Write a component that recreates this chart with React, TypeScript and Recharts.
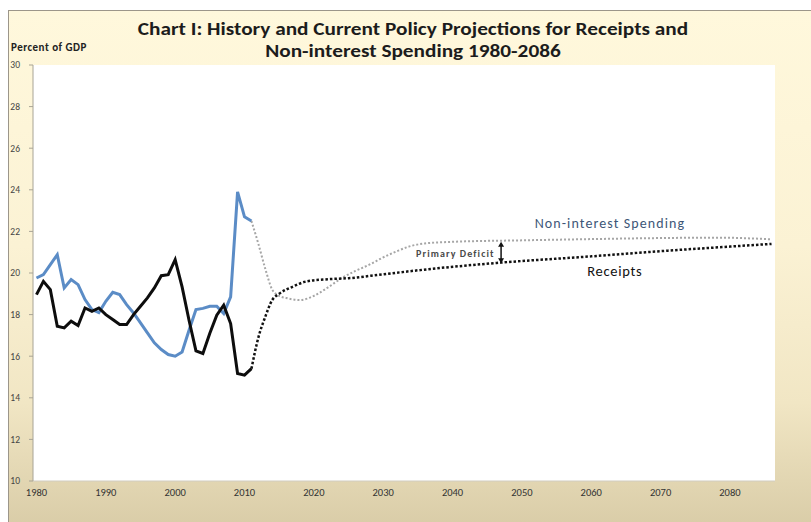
import React from 'react';
import { LineChart, Line, XAxis, YAxis, ReferenceLine, ReferenceDot, CartesianGrid } from 'recharts';

const histYears = [1980, 1981, 1982, 1983, 1984, 1985, 1986, 1987, 1988, 1989, 1990, 1991, 1992, 1993, 1994, 1995, 1996, 1997, 1998, 1999, 2000, 2001, 2002, 2003, 2004, 2005, 2006, 2007, 2008, 2009, 2010, 2011];
const histSpending = [19.76, 19.92, 20.4, 20.88, 19.28, 19.68, 19.44, 18.72, 18.24, 18.1, 18.64, 19.07, 18.96, 18.48, 18.08, 17.6, 17.12, 16.64, 16.32, 16.08, 16.0, 16.2, 17.25, 18.24, 18.3, 18.4, 18.4, 18.05, 18.85, 23.9, 22.7, 22.5];
const histReceipts = [18.96, 19.6, 19.2, 17.44, 17.36, 17.68, 17.47, 18.32, 18.16, 18.32, 18.0, 17.76, 17.52, 17.52, 18.0, 18.4, 18.8, 19.28, 19.87, 19.92, 20.64, 19.33, 17.73, 16.26, 16.13, 17.1, 17.97, 18.45, 17.57, 15.17, 15.09, 15.4];

const projSpendingYears = [2011, 2012, 2013, 2014, 2015, 2016, 2018, 2020, 2022, 2024, 2026, 2028, 2030, 2032, 2034, 2036, 2040, 2050, 2060, 2070, 2078, 2086];
const projSpending = [22.5, 21.4, 20.2, 19.2, 18.9, 18.8, 18.7, 18.9, 19.3, 19.75, 20.1, 20.4, 20.75, 21.05, 21.3, 21.42, 21.5, 21.57, 21.63, 21.68, 21.7, 21.62];

const projReceiptsYears = [2011, 2012, 2013, 2014, 2015, 2017, 2019, 2022, 2025, 2030, 2037, 2047, 2060, 2070, 2080, 2086];
const projReceipts = [15.4, 16.9, 17.9, 18.7, 19.0, 19.35, 19.6, 19.7, 19.75, 19.94, 20.2, 20.5, 20.8, 21.05, 21.27, 21.4];

const xTicks = [1980, 1990, 2000, 2010, 2020, 2030, 2040, 2050, 2060, 2070, 2080];
const yTicks = [10, 12, 14, 16, 18, 20, 22, 24, 26, 28, 30];

const titleLine1 = 'Chart I: History and Current Policy Projections for Receipts and';
const titleLine2 = 'Non-interest Spending 1980-2086';
const yUnitLabel = 'Percent of GDP';
const spendingLabel = 'Non-interest Spending';
const receiptsLabel = 'Receipts';
const deficitLabel = 'Primary Deficit';

const deficitYear = 2047;
const deficitTop = 21.45;
const deficitBottom = 20.52;

const histData = histYears.map((year, i) => ({ year, spending: histSpending[i], receipts: histReceipts[i] }));
const projSpendingData = projSpendingYears.map((year, i) => ({ year, spendingProj: projSpending[i] }));
const projReceiptsData = projReceiptsYears.map((year, i) => ({ year, receiptsProj: projReceipts[i] }));

const FONT = 'Carlito, Lato, "Open Sans", sans-serif';

const ArrowShape = (props: any) => {
  const { x1, y1, x2, y2 } = props;
  const top = Math.min(y1, y2);
  const bot = Math.max(y1, y2);
  return (
    <g>
      <line x1={x1} y1={top + 3} x2={x2} y2={bot - 3} stroke="#111" strokeWidth={1.5} />
      <polygon points={`${x1 - 3},${top + 4} ${x1 + 3},${top + 4} ${x1},${top - 1}`} fill="#111" />
      <polygon points={`${x1 - 3},${bot - 4} ${x1 + 3},${bot - 4} ${x1},${bot + 1}`} fill="#111" />
    </g>
  );
};

export default function App() {
  return (
    <div style={{ position: 'absolute', left: 0, top: 0, width: 811, height: 522, background: '#ffffff', overflow: 'hidden' }}>
      <div
        style={{
          position: 'absolute',
          left: 8,
          top: 10,
          width: 811,
          height: 522,
          borderTop: '1px solid #9c968a',
          borderLeft: '1px solid #9c968a',
          background: 'linear-gradient(to bottom, #fff8dc 0%, #fbf2d4 45%, #f1e6c4 75%, #d8cba6 100%)',
        }}
      />
      <div style={{ position: 'absolute', left: 0, top: 18, width: 826, textAlign: 'center', fontFamily: FONT, fontWeight: 700, fontSize: 19, lineHeight: '22px', color: '#1c1c1c' }}>
        <div style={{ transform: 'scaleX(1.12)' }}>{titleLine1}</div>
        <div style={{ transform: 'scaleX(1.12)' }}>{titleLine2}</div>
      </div>
      <div style={{ position: 'absolute', left: 11, top: 41, fontFamily: FONT, fontWeight: 700, fontSize: 11, letterSpacing: 0.5, color: '#222' }}>{yUnitLabel}</div>
      <div style={{ position: 'absolute', left: 0, top: 0 }}>
        <LineChart width={811} height={522} margin={{ top: 65, right: 36, bottom: 11, left: 0 }}>
          <CartesianGrid horizontal={false} vertical={false} fill="#ffffff" />
          <XAxis
            type="number"
            dataKey="year"
            domain={[1979.5, 2086.5]}
            ticks={xTicks}
            allowDataOverflow
            height={30}
            tickLine={false}
            axisLine={{ stroke: '#d0ccc0' }}
            tick={{ fill: '#333', fontSize: 10.5, fontFamily: FONT }}
            interval={0}
          />
          <YAxis
            type="number"
            domain={[10, 30]}
            ticks={yTicks}
            width={33}
            tickSize={4}
            tickMargin={9}
            axisLine={{ stroke: '#a8a496' }}
            tickLine={{ stroke: '#a8a496' }}
            tick={{ fill: '#444', fontSize: 9.5, fontFamily: FONT }}
            interval={0}
          />
          <Line data={projSpendingData} dataKey="spendingProj" type="monotone" stroke="#a6a6a6" strokeWidth={2} strokeDasharray="2 2" dot={false} activeDot={false} isAnimationActive={false} />
          <Line data={projReceiptsData} dataKey="receiptsProj" type="monotone" stroke="#111111" strokeWidth={2.5} strokeDasharray="2.5 2" dot={false} activeDot={false} isAnimationActive={false} />
          <Line data={histData} dataKey="spending" type="linear" stroke="#5b8cc6" strokeWidth={3} dot={false} activeDot={false} isAnimationActive={false} />
          <Line data={histData} dataKey="receipts" type="linear" stroke="#0d0d0d" strokeWidth={3} dot={false} activeDot={false} isAnimationActive={false} />
          <ReferenceLine
            segment={[{ x: deficitYear, y: deficitTop }, { x: deficitYear, y: deficitBottom }]}
            shape={ArrowShape}
            ifOverflow="visible"
          />
          <ReferenceDot x={2062.7} y={22.4} r={0} fill="none" stroke="none" label={{ value: spendingLabel, position: 'center', fill: '#3d5677', fontSize: 14, letterSpacing: 1.1, fontFamily: FONT }} />
          <ReferenceDot x={2063.4} y={20.1} r={0} fill="none" stroke="none" label={{ value: receiptsLabel, position: 'center', fill: '#111', fontSize: 14.5, letterSpacing: 0.7, fontFamily: FONT }} />
          <ReferenceDot x={2040.4} y={20.96} r={0} fill="none" stroke="none" label={{ value: deficitLabel, position: 'center', fill: '#4a4a4a', fontSize: 10, fontWeight: 700, letterSpacing: 1.1, fontFamily: FONT }} />
        </LineChart>
      </div>
    </div>
  );
}
